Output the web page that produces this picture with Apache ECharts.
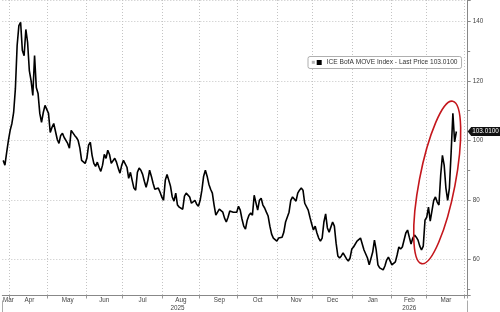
<!DOCTYPE html>
<html><head><meta charset="utf-8">
<script src="https://cdn.jsdelivr.net/npm/echarts@6/dist/echarts.min.js"></script>
<style>html,body{margin:0;padding:0;background:#fff}#c{width:500px;height:312px}</style>
</head><body><div id="c"></div>
<script>
// ---- data ----
const startDate = '2025-03-26';   // first weekday on the axis
const endDate = '2026-04-02';     // last weekday on the axis
const seriesName = 'ICE BofA MOVE Index - Last Price 103.0100';
const lastPrice = 103.01;
const lastPriceText = '103.0100';
const monthNames = ['Jan','Feb','Mar','Apr','May','Jun','Jul','Aug','Sep','Oct','Nov','Dec'];
// daily (weekday) closes, starting at startDate
const moveValues = [
  93.3, 91.7, 96.0, 100.0, 103.4, 105.7, 109.4, 117.4, 131.9, 138.6,
  139.7, 130.2, 128.5, 137.3, 133.0, 123.5, 120.1, 115.1, 128.5, 117.8,
  115.8, 109.1, 106.1, 109.4, 111.8, 112.4, 109.1, 102.7, 104.4, 105.7,
  105.4, 100.4, 99.0, 101.7, 102.4, 101.0, 100.4, 99.0, 97.4, 103.4,
  103.4, 101.7, 101.0, 100.0, 97.4, 93.3, 92.7, 92.3, 94.0, 98.4,
  99.4, 95.0, 92.3, 91.3, 92.7, 91.0, 89.6, 91.7, 95.3, 94.0,
  96.7, 95.3, 92.3, 92.7, 94.0, 92.7, 90.7, 89.0, 91.7, 93.3,
  93.3, 91.0, 87.3, 89.3, 86.6, 84.0, 83.3, 89.3, 90.7, 90.0,
  88.6, 86.3, 84.3, 86.6, 90.0, 88.0, 85.6, 83.6, 83.0, 84.0,
  82.6, 81.0, 79.9, 86.6, 88.6, 88.6, 84.6, 81.0, 79.6, 82.3,
  78.3, 77.6, 77.3, 76.9, 81.3, 82.3, 82.3, 81.0, 78.9, 78.6,
  79.9, 78.6, 77.9, 79.9, 83.3, 88.0, 90.0, 88.0, 85.3, 83.6,
  82.3, 78.3, 74.9, 74.9, 76.9, 77.3, 75.9, 73.9, 72.6, 74.2,
  76.3, 75.9, 75.9, 75.6, 75.9, 77.9, 76.6, 73.6, 71.2, 70.2,
  73.2, 74.9, 75.6, 74.9, 81.6, 81.3, 76.6, 79.9, 80.6, 78.3,
  77.3, 75.9, 74.6, 71.2, 68.5, 67.2, 67.2, 66.2, 67.2, 67.5,
  67.5, 69.2, 72.6, 73.2, 75.9, 79.9, 81.0, 80.3, 79.6, 82.3,
  83.3, 84.0, 83.3, 78.9, 78.9, 76.6, 74.2, 71.9, 69.9, 71.2,
  68.9, 67.2, 66.2, 67.2, 72.6, 75.3, 70.6, 69.2, 69.5, 72.6,
  71.2, 65.5, 61.2, 60.5, 61.2, 62.2, 61.2, 60.2, 59.5, 60.5,
  63.5, 64.2, 64.2, 66.2, 66.5, 67.2, 67.5, 63.2, 63.2, 60.5,
  58.2, 57.8, 62.5, 66.5, 63.2, 58.2, 57.2, 56.8, 56.5, 57.8,
  59.8, 60.8, 60.5, 58.2, 58.2, 59.2, 61.5, 64.2, 63.5, 64.2,
  64.5, 68.9, 69.9, 67.5, 65.2, 67.2, 68.2, 67.5, 66.5, 64.5,
  63.2, 64.5, 73.2, 74.2, 77.6, 72.9, 72.6, 79.9, 81.0, 79.3,
  78.3, 88.3, 95.0, 91.7, 84.0, 79.9, 84.0, 96.0, 109.1, 99.5,
  103.01
];
// annotation ellipse anchor (category index, value)
const ellipseAnchor = [249.3, 85.9];

// ---- build categories (weekdays) ----
function weekdays(s, e) {
  const out = []; const d = new Date(s + 'T00:00:00Z'); const end = new Date(e + 'T00:00:00Z');
  while (d <= end) { const w = d.getUTCDay(); if (w !== 0 && w !== 6) out.push(d.toISOString().slice(0, 10)); d.setUTCDate(d.getUTCDate() + 1); }
  return out;
}
const cats = weekdays(startDate, endDate);
const values = cats.map((c, i) => i < moveValues.length ? moveValues[i] : null);

// month groups
const groups = [];
cats.forEach((c, i) => {
  const key = c.slice(0, 7);
  if (!groups.length || groups[groups.length - 1].key !== key) groups.push({ key, first: i, last: i });
  else groups[groups.length - 1].last = i;
});
const monthStart = new Set(groups.slice(1).map(g => g.first));
const monthLabel = new Set();
groups.forEach((g, gi) => {
  const n = g.last - g.first + 1;
  if (gi === 0) monthLabel.add(g.last);
  else if (n >= 5) monthLabel.add(Math.round((g.first + g.last) / 2));
});
// year groups
const years = [];
cats.forEach((c, i) => {
  const key = c.slice(0, 4);
  if (!years.length || years[years.length - 1].key !== key) years.push({ key, first: i, last: i });
  else years[years.length - 1].last = i;
});
const yearStart = new Set(years.slice(1).map(g => g.first));
const yearLabel = new Set(years.map(g => Math.floor((g.first + g.last) / 2)));

const FONT = 'Liberation Sans';
const chart = echarts.init(document.getElementById('c'), null, { renderer: 'canvas' });
const gridRight = 32.3;
chart.setOption({
  animation: false,
  backgroundColor: '#fff',
  textStyle: { fontFamily: FONT },
  grid: { left: 0, right: gridRight, top: -1, bottom: 16.5, containLabel: false },
  legend: {
    show: true, left: 308, top: 56.5,
    padding: [2.5, 4, 2.5, 8.7],
    borderColor: '#9a9a9a', borderWidth: 0.8, borderRadius: 2, backgroundColor: '#fff',
    itemWidth: 5, itemHeight: 5, icon: 'rect',
    textStyle: { fontSize: 6.6, color: '#333', fontFamily: FONT },
    data: [seriesName]
  },
  xAxis: [{
    type: 'category', data: cats, boundaryGap: true,
    axisLine: { show: true, lineStyle: { color: '#888', width: 1 } },
    axisTick: { show: true, interval: (i) => monthStart.has(i), length: 3, lineStyle: { color: '#999' } },
    axisLabel: {
      interval: (i) => monthLabel.has(i),
      formatter: (v) => monthNames[+v.slice(5, 7) - 1],
      fontSize: 6.3, color: '#444', margin: 2, fontFamily: FONT
    },
    splitLine: { show: true, interval: (i) => monthStart.has(i), lineStyle: { color: '#c4c4c4', type: [1, 2], width: 1 } }
  }, {
    type: 'category', data: cats, boundaryGap: true, position: 'bottom', offset: 5,
    axisLine: { show: false },
    axisTick: { show: true, interval: (i) => yearStart.has(i), length: 12, lineStyle: { color: '#aaa' } },
    axisLabel: {
      interval: (i) => yearLabel.has(i),
      formatter: (v) => v.slice(0, 4),
      fontSize: 6.3, color: '#444', margin: 5, fontFamily: FONT
    },
    splitLine: { show: false }
  }],
  yAxis: {
    type: 'value', position: 'right', min: 47.9, max: 147.2, splitNumber: 5,
    axisLine: { show: true, lineStyle: { color: '#888' } },
    axisTick: { show: true, length: 3, lineStyle: { color: '#888' } },
    minorTick: { show: true, splitNumber: 2, length: 2.5, lineStyle: { color: '#888' } },
    axisLabel: { showMinLabel: false, showMaxLabel: false, fontSize: 6.3, color: '#444', margin: 5, fontFamily: FONT },
    splitLine: { show: true, lineStyle: { color: '#c4c4c4', type: [1, 2], width: 1 } }
  },
  series: [{
    type: 'line', name: seriesName, data: values, xAxisIndex: 0,
    showSymbol: false, symbol: 'none',
    lineStyle: { color: '#000', width: 1.6 }, itemStyle: { color: '#000' }, z: 3
  }]
});

// annotations anchored to data coordinates
const yPx = chart.convertToPixel({ yAxisIndex: 0 }, lastPrice);
const xAxisEnd = 500 - gridRight;
const ec = chart.convertToPixel({ seriesIndex: 0 }, ellipseAnchor);
chart.setOption({
  graphic: [
    { type: 'ellipse', z: 10, x: ec[0], y: ec[1], rotation: -10.8 * Math.PI / 180,
      shape: { cx: 0, cy: 0, rx: 18, ry: 82.7 },
      style: { fill: 'none', stroke: '#c4161c', lineWidth: 1.6 } },
    { type: 'polygon', z: 10,
      shape: { points: [[xAxisEnd, yPx], [xAxisEnd + 3.5, yPx - 4.6], [500, yPx - 4.6], [500, yPx + 4.6], [xAxisEnd + 3.5, yPx + 4.6]] },
      style: { fill: '#111' } },
    { type: 'text', z: 11, x: xAxisEnd + 4.5, y: yPx,
      style: { text: lastPriceText, fill: '#fff', fontSize: 6.4, fontFamily: FONT, verticalAlign: 'middle', align: 'left' } },
    { type: 'rect', z: 10, shape: { x: 311.8, y: 60.8, width: 3, height: 3 }, style: { fill: '#b5b5b5' } }
  ]
});
</script>
</body></html>
